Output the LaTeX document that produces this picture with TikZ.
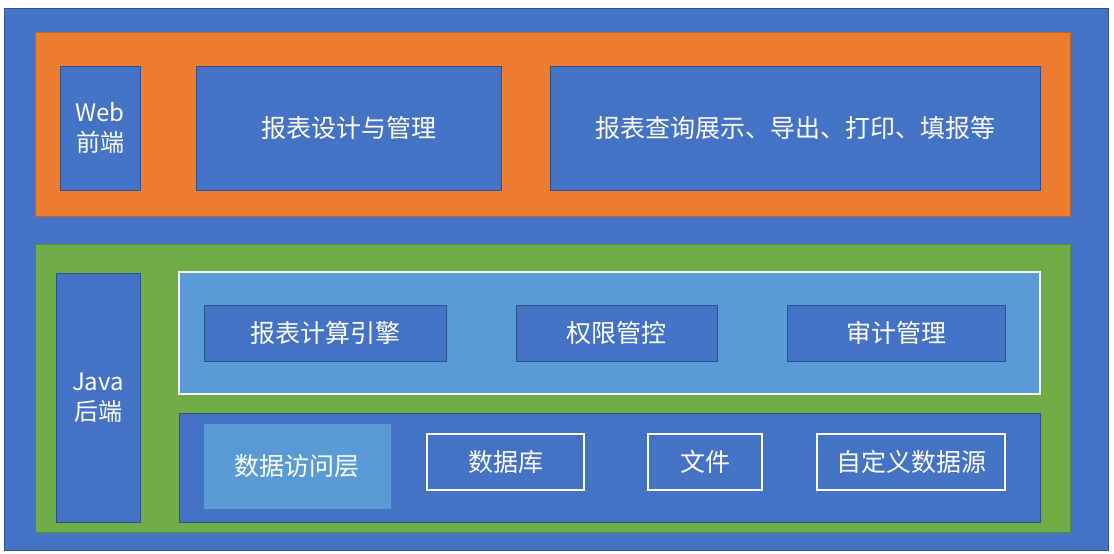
\documentclass[tikz,border=0pt]{standalone}
\usepackage{fontspec}
\setmainfont{Noto Sans CJK SC}
\definecolor{cblue}{HTML}{4472C4}
\definecolor{corange}{HTML}{ED7D31}
\definecolor{cgreen}{HTML}{70AD47}
\definecolor{clight}{HTML}{5B9BD5}
\begin{document}
\begin{tikzpicture}[x=1pt,y=-1pt,
  box/.style={draw=#1!70!black,line width=0.6pt},
  lbl/.style={text=white,font=\fontsize{25}{30}\selectfont,align=center},
  wbox/.style={draw=white,line width=1.5pt}]
\useasboundingbox (0,0) rectangle (1114,554);
\fill[white] (0,0) rectangle (1114,554);
\draw[fill=cblue,draw=cblue!70!black] (4,8) rectangle (1108,550);
\draw[fill=corange,draw=corange!80!black] (35,32) rectangle (1070,216);
\draw[fill=cblue,box=cblue] (60,66) rectangle (140,190) node[midway,lbl,font=\fontsize{24}{30}\selectfont] (web) {Web\\前端};
\draw[fill=cblue,box=cblue] (196,66) rectangle (501,190) node[midway,lbl] (sj) {报表设计与管理};
\draw[fill=cblue,box=cblue] (550,66) rectangle (1040,190) node[midway,lbl] (cx) {报表查询展示、导出、打印、填报等};
\draw[fill=cgreen,draw=cgreen!80!black] (35,244) rectangle (1070,532);
\draw[fill=cblue,box=cblue] (56,273) rectangle (140,522) node[midway,lbl,font=\fontsize{24}{30}\selectfont] (java) {Java\\后端};
\draw[fill=clight,wbox] (179,272) rectangle (1040,394);
\draw[fill=cblue,box=cblue] (204,305) rectangle (446,361) node[midway,lbl] (yq) {报表计算引擎};
\draw[fill=cblue,box=cblue] (516,305) rectangle (717,361) node[midway,lbl] (qx) {权限管控};
\draw[fill=cblue,box=cblue] (787,305) rectangle (1005,361) node[midway,lbl] (sg) {审计管理};
\draw[fill=cblue,box=cblue] (179,413) rectangle (1040,522);
\draw[fill=clight,draw=clight] (204,424) rectangle (390,508) node[midway,lbl] (fw) {数据访问层};
\draw[wbox] (427,434) rectangle (584,490) node[midway,lbl] (db) {数据库};
\draw[wbox] (648,434) rectangle (762,490) node[midway,lbl] (wj) {文件};
\draw[wbox] (817,434) rectangle (1005,490) node[midway,lbl] (zd) {自定义数据源};
\end{tikzpicture}
\end{document}
